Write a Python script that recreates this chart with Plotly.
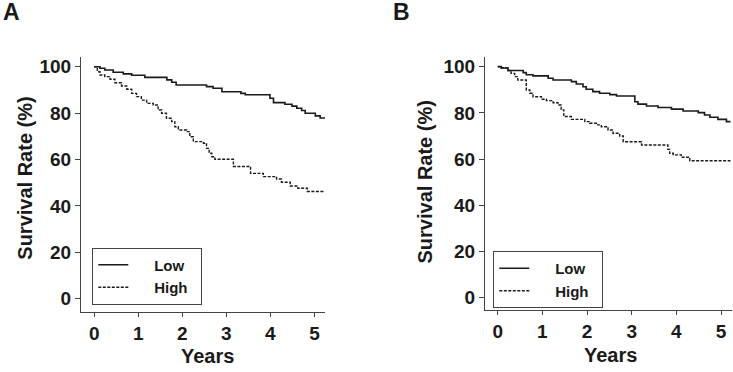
import plotly.graph_objects as go

# ---------------- data ----------------
years_A_low = [0, 0.13, 0.24, 0.43, 0.66, 0.85, 1.15, 1.65, 1.76, 1.86, 2.55, 2.70, 2.90, 3.33, 3.43,
               3.99, 4.07, 4.33, 4.49, 4.60, 4.71, 4.79, 5.02, 5.13, 5.24]
surv_A_low = [100, 99.3, 98.6, 97.6, 96.9, 96.3, 95.4, 94.3, 93.3, 92.1, 91.4, 90.7, 89.2, 88.5, 87.9,
              86.4, 84.5, 83.8, 83.0, 82.1, 81.1, 79.9, 78.8, 77.9, 77.9]

years_A_high = [0, 0.07, 0.13, 0.24, 0.36, 0.47, 0.62, 0.74, 0.85, 0.96, 1.07, 1.19, 1.34, 1.45, 1.53,
                1.64, 1.76, 1.83, 1.91, 2.10, 2.17, 2.25, 2.48, 2.55, 2.61, 2.67, 2.74, 3.16, 3.55,
                3.84, 4.14, 4.25, 4.45, 4.62, 4.84, 5.24]
surv_A_high = [100, 97.8, 96.4, 95.7, 94.6, 93.1, 91.7, 90.3, 88.5, 87.1, 85.6, 84.2, 83.5, 81.3, 79.9,
               77.8, 76.3, 74.1, 72.7, 72.0, 69.8, 67.7, 67.0, 64.8, 62.7, 61.2, 60.1, 57.0, 54.0,
               52.6, 51.6, 50.2, 48.6, 47.6, 46.2, 46.2]

years_B_low = [0, 0.08, 0.23, 0.57, 0.64, 0.79, 1.13, 1.24, 1.65, 1.76, 1.91, 1.98, 2.13, 2.28, 2.51,
               2.66, 3.07, 3.14, 3.33, 3.59, 3.89, 4.15, 4.49, 4.63, 4.75, 4.93, 5.12, 5.21]
surv_B_low = [100, 99.4, 98.3, 97.4, 96.5, 96.0, 95.0, 94.2, 93.5, 92.5, 91.3, 90.2, 89.2, 88.5, 87.9,
              87.3, 84.8, 83.8, 83.0, 82.3, 81.6, 80.8, 80.1, 79.1, 78.1, 77.2, 76.2, 76.2]

years_B_high = [0, 0.08, 0.23, 0.30, 0.38, 0.45, 0.64, 0.72, 0.79, 0.98, 1.09, 1.24, 1.35, 1.42, 1.48,
                1.65, 1.95, 2.06, 2.21, 2.32, 2.47, 2.58, 2.73, 2.81, 3.22, 3.81, 3.85, 3.93, 4.11,
                4.30, 5.21]
surv_B_high = [100, 99.4, 98.3, 97.1, 95.7, 94.2, 89.9, 88.5, 87.0, 85.9, 85.3, 84.4, 83.4, 81.3, 78.4,
               77.2, 76.2, 75.5, 74.8, 74.0, 72.6, 71.2, 70.0, 67.5, 66.1, 64.2, 62.5, 61.8, 60.8,
               59.3, 59.3]

x_ticks = [0, 1, 2, 3, 4, 5]
y_ticks = [0, 20, 40, 60, 80, 100]
group_names = ["Low", "High"]
panel_labels = ["A", "B"]
x_title = "Years"
y_title = "Survival Rate (%)"

# ---------------- figure ----------------
W, H = 733, 372
FONT = "Liberation Sans, Arial, Helvetica, sans-serif"
INK = "#1a1a1a"
AXC = "#444444"

fig = go.Figure()

def nm(s):
    return "\u00a0" * 5 + s + "\u00a0" * 2

fig.add_trace(go.Scatter(x=years_A_low, y=surv_A_low, mode="lines", line_shape="hv",
                         line=dict(color=INK, width=1.6), name=nm(group_names[0]),
                         xaxis="x", yaxis="y", legend="legend"))
fig.add_trace(go.Scatter(x=years_A_high, y=surv_A_high, mode="lines", line_shape="hv",
                         line=dict(color=INK, width=1.4, dash="3px,1.5px"), name=nm(group_names[1]),
                         xaxis="x", yaxis="y", legend="legend"))
fig.add_trace(go.Scatter(x=years_B_low, y=surv_B_low, mode="lines", line_shape="hv",
                         line=dict(color=INK, width=1.6), name=nm(group_names[0]),
                         xaxis="x2", yaxis="y2", legend="legend2"))
fig.add_trace(go.Scatter(x=years_B_high, y=surv_B_high, mode="lines", line_shape="hv",
                         line=dict(color=INK, width=1.4, dash="3px,1.5px"), name=nm(group_names[1]),
                         xaxis="x2", yaxis="y2", legend="legend2"))

tickfont = dict(family=FONT, size=19, color=INK, weight=700)
common_x = dict(showline=True, linecolor=AXC, linewidth=1, ticks="outside", ticklen=4,
                tickcolor=AXC, tickwidth=1, tickvals=x_ticks, tickfont=tickfont,
                showgrid=False, zeroline=False, fixedrange=True)
common_y = dict(showline=True, linecolor=AXC, linewidth=1, ticks="outside", ticklen=5,
                tickcolor=AXC, tickwidth=1, tickvals=y_ticks, tickfont=tickfont,
                showgrid=False, zeroline=False, fixedrange=True)

legend_common = dict(bordercolor=AXC, borderwidth=1, bgcolor="white",
                     font=dict(family=FONT, size=15, color=INK, weight=700),
                     xanchor="left", yanchor="top", orientation="v", tracegroupgap=0,
                     itemclick=False, itemdoubleclick=False)

fig.update_layout(
    width=W, height=H,
    margin=dict(l=0, r=0, t=0, b=0),
    paper_bgcolor="white", plot_bgcolor="white",
    showlegend=True,
    xaxis=dict(domain=[81 / W, 325 / W], range=[-0.30, 5.24], anchor="y", **common_x),
    yaxis=dict(domain=[(H - 311.7) / H, (H - 56.7) / H], range=[-5.6, 104.3], anchor="x", **common_y),
    xaxis2=dict(domain=[485 / W, 732 / W], range=[-0.284, 5.245], anchor="y2", **common_x),
    yaxis2=dict(domain=[(H - 310) / H, (H - 56.7) / H], range=[-5.3, 104.3], anchor="x2", **common_y),
    legend=dict(x=92.3 / W, y=(H - 247.5) / H, **legend_common),
    legend2=dict(x=493.3 / W, y=(H - 251) / H, **legend_common),
)

title_font = dict(family=FONT, size=20, color=INK, weight=700)
label_font = dict(family=FONT, size=23, color=INK, weight=700)
annos = [
    dict(text=y_title, x=24.7 / W, y=(H - 178) / H, textangle=-90, font=title_font),
    dict(text=y_title, x=424 / W, y=(H - 182.5) / H, textangle=-90, font=title_font),
    dict(text=x_title, x=207.5 / W, y=(H - 356) / H, font=title_font),
    dict(text=x_title, x=610.8 / W, y=(H - 355) / H, font=title_font),
    dict(text=panel_labels[0], x=11.5 / W, y=(H - 12.5) / H, font=label_font),
    dict(text=panel_labels[1], x=401.5 / W, y=(H - 12.5) / H, font=label_font),
]
for a in annos:
    fig.add_annotation(xref="paper", yref="paper", xanchor="center", yanchor="middle",
                       showarrow=False, **a)

fig.write_html("out.html", config={"displayModeBar": False},
               post_script="document.body.style.margin='0px';document.body.style.overflow='hidden';")
